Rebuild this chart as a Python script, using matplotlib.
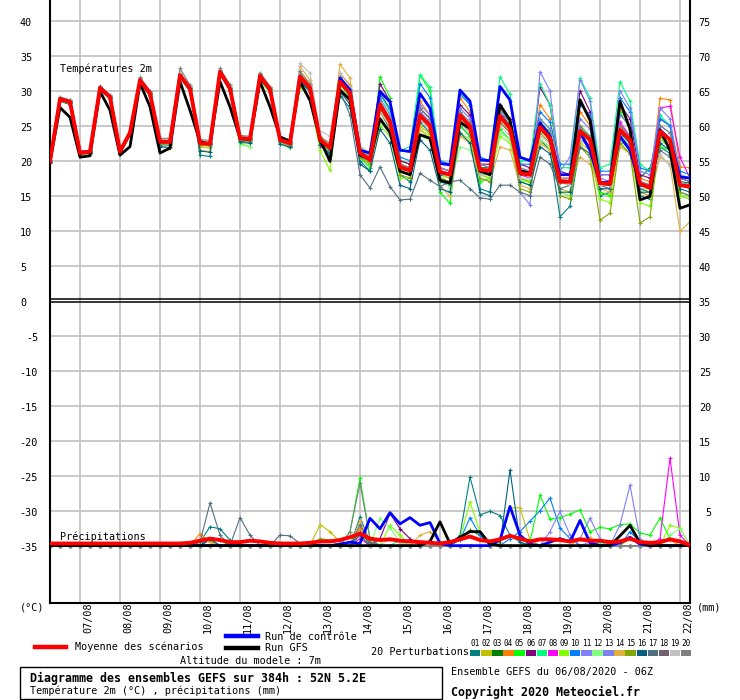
import numpy as np
import matplotlib
matplotlib.use("Agg")
import matplotlib.pyplot as plt
from matplotlib.transforms import blended_transform_factory
from matplotlib.patches import Rectangle

# ---------------- DATA ----------------
STEP_H = 6  # GEFS output step (hours), 06/08/2020 06Z -> +384h
DATE_LABELS = ["07/08", "08/08", "09/08", "10/08", "11/08", "12/08", "13/08", "14/08",
               "15/08", "16/08", "17/08", "18/08", "19/08", "20/08", "21/08", "22/08"]
FIRST_MIDNIGHT_H = 18

T_MEAN = [19.9, 28.8, 28.4, 21.1, 21.3, 30.4, 29.1, 21.3,
          24.0, 31.5, 29.6, 22.7, 22.7, 32.2, 30.3, 22.5,
          22.4, 32.7, 30.3, 23.2, 23.1, 32.1, 30.2, 23.0,
          22.5, 32.0, 30.4, 23.0, 21.8, 31.3, 29.6, 21.1,
          20.1, 28.0, 25.6, 19.1, 18.6, 26.5, 25.0, 18.4,
          18.0, 26.5, 24.9, 18.7, 18.6, 26.4, 24.6, 18.2,
          18.0, 24.8, 23.2, 17.0, 17.0, 24.2, 23.0, 16.8,
          16.7, 24.4, 23.0, 16.7, 16.1, 24.2, 23.0, 16.5,
          16.3]
T_GFS = [19.9, 27.6, 26.2, 20.5, 20.7, 29.9, 27.2, 20.8,
         22.0, 31.1, 27.7, 21.1, 21.8, 31.3, 27.2, 22.7,
         22.4, 31.3, 27.7, 23.2, 23.0, 31.3, 27.7, 23.4,
         22.8, 31.3, 28.6, 23.0, 19.9, 30.1, 28.7, 20.8,
         20.1, 26.0, 24.0, 18.5, 18.0, 23.7, 23.2, 17.2,
         16.8, 25.5, 24.6, 18.5, 18.0, 28.0, 25.8, 18.6,
         18.2, 25.0, 23.0, 17.0, 17.0, 28.7, 25.8, 16.8,
         16.6, 28.5, 24.5, 14.4, 14.9, 24.4, 21.5, 13.2,
         13.7]
T_CTL = [19.9, 28.8, 28.4, 21.2, 21.3, 30.4, 29.1, 21.3,
         24.0, 31.5, 29.6, 22.7, 22.7, 32.2, 30.3, 22.5,
         22.4, 32.7, 30.3, 23.2, 23.1, 32.1, 30.2, 23.0,
         22.5, 32.0, 30.4, 23.0, 21.8, 31.8, 30.1, 21.5,
         21.1, 29.9, 28.4, 21.5, 21.3, 29.6, 27.5, 19.6,
         19.4, 30.1, 28.5, 20.1, 20.0, 30.6, 28.7, 20.5,
         20.0, 25.4, 23.5, 18.0, 18.0, 24.0, 21.5, 16.8,
         17.0, 23.5, 21.5, 16.5, 16.3, 24.4, 23.0, 17.7,
         17.5]

T_P01 = [19.7, 28.5, 28.0, 20.9, 21.0, 30.1, 28.8, 21.0,
         23.6, 31.2, 29.2, 22.3, 22.2, 31.8, 29.9, 20.8,
         20.6, 32.3, 30.0, 22.8, 22.6, 31.8, 29.8, 22.5,
         22.0, 31.3, 29.8, 22.4, 20.8, 29.3, 27.5, 20.0,
         18.5, 27.0, 24.5, 18.0, 17.0, 25.5, 24.0, 17.0,
         16.5, 25.0, 23.5, 16.0, 15.5, 27.0, 25.0, 17.5,
         17.0, 23.0, 21.5, 12.0, 13.5, 22.0, 21.0, 15.0,
         15.5, 23.5, 22.0, 15.0, 14.5, 22.0, 21.0, 15.5,
         15.0]
T_P02 = [19.9, 28.7, 28.3, 21.0, 21.2, 30.3, 29.0, 21.5,
         24.2, 31.4, 29.5, 22.5, 22.4, 32.0, 30.1, 22.0,
         21.8, 32.5, 30.2, 23.0, 22.8, 32.0, 30.0, 22.8,
         22.3, 31.8, 30.1, 23.0, 21.5, 31.0, 29.2, 21.0,
         20.0, 27.0, 24.8, 18.5, 18.0, 25.0, 23.8, 17.5,
         17.0, 25.5, 24.0, 18.0, 17.5, 25.5, 24.0, 17.5,
         17.0, 23.0, 22.0, 16.0, 15.5, 22.5, 21.5, 15.5,
         15.0, 23.0, 22.0, 15.5, 15.0, 23.5, 22.5, 16.5,
         16.0]
T_P03 = [19.9, 29.0, 28.5, 21.2, 21.4, 30.5, 29.2, 21.2,
         23.9, 31.6, 29.7, 22.8, 22.8, 32.4, 30.5, 22.6,
         22.5, 32.8, 30.4, 23.3, 23.2, 32.3, 30.3, 23.1,
         22.6, 32.3, 30.6, 23.2, 22.0, 32.0, 30.0, 21.5,
         20.5, 28.5, 26.0, 19.5, 19.0, 27.0, 25.5, 18.5,
         18.0, 26.5, 25.0, 19.0, 19.0, 27.5, 25.5, 18.5,
         18.5, 25.5, 24.0, 17.5, 17.0, 24.5, 23.5, 17.0,
         16.5, 25.0, 23.5, 17.5, 19.0, 23.0, 22.0, 17.0,
         16.8]
T_P04 = [20.0, 28.9, 28.6, 21.3, 21.5, 30.6, 29.3, 21.6,
         24.3, 31.8, 29.9, 23.0, 22.9, 32.5, 30.6, 22.8,
         22.7, 32.9, 30.6, 23.5, 23.4, 32.4, 30.5, 23.3,
         22.8, 32.5, 30.8, 23.4, 22.3, 32.5, 30.8, 22.0,
         21.0, 30.0, 27.0, 20.0, 19.5, 28.5, 26.5, 19.0,
         18.5, 29.0, 27.0, 19.5, 19.0, 28.0, 26.0, 19.0,
         18.5, 28.0, 26.0, 17.5, 17.5, 27.0, 25.0, 17.0,
         17.0, 27.5, 25.0, 17.5, 17.0, 28.9, 28.7, 19.1,
         19.0]
T_P05 = [19.8, 28.8, 28.4, 21.0, 21.2, 30.4, 29.1, 21.2,
         23.8, 31.4, 29.5, 22.6, 22.6, 32.1, 30.2, 22.4,
         22.3, 32.6, 30.2, 23.1, 23.0, 32.0, 30.1, 22.9,
         22.3, 31.7, 30.0, 22.7, 21.3, 31.0, 29.0, 20.5,
         19.0, 32.0, 29.0, 20.0, 19.5, 32.2, 30.0, 15.5,
         13.9, 25.0, 23.5, 17.0, 17.5, 24.5, 23.0, 17.0,
         16.5, 26.0, 24.5, 17.0, 16.5, 25.0, 23.5, 15.5,
         15.0, 27.0, 24.5, 16.0, 15.5, 22.0, 21.5, 15.0,
         14.5]
T_P06 = [19.9, 28.8, 28.4, 21.2, 21.4, 30.4, 29.1, 21.4,
         24.0, 31.6, 29.6, 22.7, 22.6, 32.2, 30.3, 22.5,
         22.4, 32.7, 30.3, 23.2, 23.1, 32.1, 30.2, 23.0,
         22.4, 32.0, 30.4, 23.0, 21.7, 31.5, 29.8, 21.5,
         20.5, 31.0, 28.5, 20.0, 19.5, 27.5, 26.0, 19.0,
         18.5, 28.0, 26.5, 19.5, 19.5, 27.5, 26.0, 19.5,
         19.0, 30.5, 28.0, 18.5, 18.0, 30.0, 27.0, 18.0,
         18.0, 28.0, 26.0, 18.0, 17.5, 26.0, 25.0, 17.5,
         17.0]
T_P07 = [20.0, 29.0, 28.6, 21.3, 21.4, 30.6, 29.3, 21.4,
         24.1, 31.7, 29.8, 22.9, 22.9, 32.4, 30.5, 22.7,
         22.6, 32.9, 30.5, 23.4, 23.2, 32.3, 30.4, 23.1,
         22.6, 32.2, 30.6, 23.2, 22.0, 31.8, 30.2, 21.8,
         21.0, 29.5, 27.0, 21.5, 22.0, 32.3, 30.5, 20.0,
         19.5, 30.0, 28.0, 20.0, 20.0, 32.0, 29.5, 20.0,
         20.0, 31.0, 28.0, 19.0, 19.0, 31.8, 29.0, 19.0,
         19.5, 31.3, 28.5, 19.5, 18.5, 26.5, 25.0, 18.0,
         17.5]
T_P08 = [19.8, 28.7, 28.3, 21.1, 21.2, 30.3, 29.0, 21.3,
         23.9, 31.4, 29.5, 22.6, 22.5, 32.1, 30.2, 22.3,
         22.2, 32.6, 30.2, 23.0, 22.9, 32.0, 30.0, 22.7,
         22.1, 31.6, 29.8, 22.0, 21.2, 31.2, 29.5, 20.5,
         20.0, 27.5, 25.0, 19.5, 19.0, 26.0, 24.5, 18.0,
         17.5, 25.5, 24.0, 18.5, 18.0, 25.5, 24.0, 18.0,
         17.5, 24.5, 23.0, 17.0, 17.0, 24.0, 22.0, 17.0,
         16.5, 25.5, 23.5, 17.0, 16.5, 27.5, 27.8, 20.5,
         17.5]
T_P09 = [19.9, 28.6, 28.2, 21.0, 21.2, 30.2, 28.9, 21.1,
         23.7, 31.3, 29.4, 22.5, 22.5, 32.0, 30.1, 22.3,
         22.2, 32.5, 30.1, 22.5, 22.0, 31.5, 29.7, 22.5,
         22.0, 30.5, 29.0, 21.5, 18.6, 30.5, 28.5, 20.5,
         19.5, 25.0, 23.5, 17.5, 17.5, 24.5, 23.5, 18.0,
         17.5, 24.0, 23.0, 18.0, 17.5, 23.5, 22.5, 17.0,
         17.0, 22.5, 21.5, 15.5, 15.0, 22.0, 21.0, 14.5,
         14.0, 22.5, 21.0, 14.0, 13.5, 23.0, 22.0, 15.0,
         14.5]
T_P10 = [20.0, 28.9, 28.5, 21.2, 21.3, 30.5, 29.2, 21.3,
         24.0, 31.6, 29.7, 22.8, 22.8, 32.3, 30.4, 22.6,
         22.5, 32.8, 30.4, 23.3, 23.2, 32.2, 30.3, 23.1,
         22.6, 32.1, 30.5, 23.1, 21.9, 31.5, 29.8, 21.5,
         21.0, 29.5, 27.5, 20.5, 20.0, 31.0, 29.0, 20.0,
         19.5, 29.5, 28.0, 20.5, 20.0, 30.5, 28.5, 19.5,
         19.5, 27.0, 25.5, 19.5, 19.5, 28.0, 26.5, 18.5,
         18.5, 29.0, 27.0, 19.0, 18.5, 26.0, 25.0, 18.5,
         18.0]
T_P11 = [19.8, 28.8, 28.4, 21.1, 21.3, 30.4, 29.1, 21.3,
         24.0, 31.5, 29.6, 22.7, 22.7, 32.2, 30.3, 22.5,
         22.4, 32.7, 30.3, 23.2, 23.1, 32.1, 30.2, 23.0,
         22.5, 32.0, 30.4, 23.0, 21.8, 31.3, 29.6, 21.2,
         20.5, 28.0, 25.5, 18.5, 18.0, 27.0, 25.5, 18.5,
         18.0, 27.0, 25.0, 18.5, 18.5, 26.5, 24.5, 15.5,
         13.7, 32.7, 30.0, 18.5, 20.5, 31.6, 28.5, 18.0,
         18.0, 30.0, 27.5, 18.5, 18.0, 27.5, 26.0, 18.0,
         17.5]
T_P12 = [19.9, 28.7, 28.3, 21.0, 21.2, 30.3, 29.0, 21.2,
         23.9, 31.4, 29.5, 22.6, 22.6, 32.1, 30.2, 22.4,
         22.3, 32.6, 30.2, 22.3, 22.0, 31.8, 29.9, 22.4,
         21.8, 31.5, 29.8, 22.5, 21.0, 30.5, 28.5, 20.5,
         20.0, 25.5, 24.0, 19.0, 19.0, 23.5, 23.0, 18.5,
         16.0, 22.0, 21.5, 18.0, 18.0, 24.0, 23.0, 17.0,
         17.5, 23.0, 22.0, 17.0, 16.5, 24.0, 22.5, 16.5,
         16.5, 23.5, 22.5, 16.0, 16.0, 23.0, 22.0, 16.5,
         16.0]
T_P13 = [20.0, 28.9, 28.5, 21.2, 21.3, 30.5, 29.1, 21.3,
         24.1, 31.6, 29.6, 22.8, 22.8, 32.3, 30.4, 22.5,
         22.4, 32.7, 30.4, 23.3, 23.2, 32.2, 30.3, 23.1,
         22.6, 32.1, 30.5, 23.1, 22.0, 31.4, 29.7, 21.3,
         20.5, 29.0, 26.5, 19.5, 19.0, 28.0, 26.5, 19.0,
         18.5, 27.5, 26.0, 19.5, 19.0, 27.0, 25.5, 19.0,
         18.5, 26.0, 24.5, 17.5, 17.5, 26.0, 24.5, 17.5,
         17.0, 26.5, 25.0, 17.0, 16.5, 25.0, 24.0, 17.0,
         16.5]
T_P14 = [20.1, 29.0, 28.6, 20.8, 21.0, 30.5, 29.2, 21.5,
         24.2, 31.8, 29.8, 22.0, 21.8, 32.5, 30.4, 21.5,
         21.3, 32.8, 30.4, 23.4, 23.3, 32.4, 30.5, 23.2,
         22.7, 33.5, 31.5, 23.5, 22.3, 33.8, 31.8, 21.5,
         20.5, 26.0, 24.0, 19.0, 18.0, 24.5, 23.0, 16.5,
         14.9, 23.5, 22.5, 17.5, 17.0, 22.0, 21.5, 16.5,
         16.0, 22.5, 21.5, 17.5, 17.0, 20.5, 19.5, 16.0,
         15.5, 22.0, 21.0, 15.5, 15.0, 20.5, 19.5, 9.9,
         11.3]
T_P15 = [19.8, 28.6, 28.2, 21.0, 21.1, 30.2, 28.9, 21.0,
         23.8, 31.3, 29.4, 22.4, 22.4, 32.0, 30.1, 22.2,
         22.1, 32.5, 30.1, 22.9, 22.8, 31.9, 30.0, 22.8,
         22.2, 31.8, 30.2, 22.8, 21.5, 31.0, 29.2, 20.5,
         19.5, 27.5, 25.0, 18.0, 17.5, 26.0, 24.5, 17.5,
         17.0, 26.0, 24.0, 17.5, 17.0, 25.5, 24.0, 16.0,
         15.5, 24.0, 22.5, 15.0, 14.5, 22.0, 20.5, 11.5,
         12.5, 22.5, 21.0, 11.1, 12.0, 23.5, 22.0, 15.5,
         15.0]
T_P16 = [19.8, 28.7, 28.3, 21.0, 21.1, 30.3, 29.0, 21.1,
         23.8, 31.4, 29.5, 22.0, 21.9, 32.1, 30.2, 21.4,
         21.2, 32.5, 30.1, 22.6, 22.5, 31.7, 29.8, 22.4,
         21.9, 31.4, 29.9, 22.3, 21.0, 30.0, 28.0, 19.5,
         18.5, 24.5, 22.5, 16.5, 16.0, 23.0, 21.5, 16.0,
         15.5, 24.0, 22.5, 15.5, 15.0, 28.0, 25.5, 17.0,
         16.5, 22.0, 21.0, 15.5, 15.5, 23.0, 22.0, 16.0,
         16.0, 24.0, 22.5, 15.5, 15.5, 22.5, 21.5, 16.0,
         15.5]
T_P17 = [19.9, 28.9, 28.5, 21.1, 21.3, 30.5, 29.2, 21.3,
         24.0, 31.6, 29.7, 22.8, 22.8, 32.3, 30.4, 22.6,
         22.5, 32.8, 30.4, 23.3, 23.2, 32.2, 30.3, 23.1,
         22.6, 32.1, 30.5, 23.0, 21.5, 30.0, 26.5, 18.0,
         16.1, 19.1, 16.3, 14.4, 14.5, 18.2, 17.2, 16.3,
         17.0, 17.2, 16.0, 14.7, 14.5, 16.5, 16.5, 15.5,
         15.0, 20.5, 19.5, 16.0, 16.5, 22.0, 21.0, 16.5,
         16.0, 23.0, 21.5, 16.0, 15.5, 21.5, 20.5, 16.5,
         16.0]
T_P18 = [19.9, 28.8, 28.4, 21.1, 21.3, 30.4, 29.1, 21.4,
         24.1, 31.5, 29.6, 22.7, 22.7, 32.2, 30.3, 22.5,
         22.4, 32.7, 30.3, 23.2, 23.1, 32.1, 30.2, 23.0,
         22.5, 32.0, 30.4, 23.0, 21.8, 31.3, 29.6, 21.0,
         20.0, 28.0, 25.5, 19.0, 18.5, 26.5, 25.0, 18.0,
         18.0, 26.5, 25.0, 18.5, 18.5, 26.0, 24.5, 18.0,
         18.0, 24.5, 23.0, 17.0, 17.0, 24.5, 23.0, 17.0,
         17.0, 24.5, 23.0, 17.0, 16.5, 24.0, 23.0, 16.5,
         16.3]
T_P19 = [20.0, 29.0, 28.6, 21.3, 21.5, 30.6, 29.3, 21.5,
         24.2, 31.8, 29.9, 23.0, 23.0, 32.5, 30.8, 22.8,
         22.7, 33.0, 31.0, 23.5, 23.4, 32.5, 30.6, 23.3,
         23.0, 33.9, 32.5, 24.3, 23.5, 32.5, 30.5, 22.0,
         21.0, 27.0, 25.0, 19.5, 19.0, 26.0, 24.5, 18.5,
         18.0, 25.5, 24.0, 18.0, 18.0, 25.0, 23.5, 17.5,
         17.5, 23.5, 22.5, 17.0, 16.5, 23.0, 22.0, 16.5,
         16.5, 23.0, 22.0, 16.5, 16.5, 21.0, 19.2, 18.0,
         17.5]
T_P20 = [20.0, 29.1, 28.7, 21.3, 21.5, 30.7, 29.4, 21.5,
         24.3, 31.9, 30.0, 23.2, 23.2, 33.2, 30.8, 23.0,
         22.9, 33.2, 30.8, 23.6, 23.5, 32.6, 30.6, 23.4,
         22.9, 32.8, 31.0, 23.4, 22.5, 32.0, 30.2, 21.5,
         20.5, 28.5, 26.0, 19.5, 19.0, 27.5, 26.0, 18.5,
         18.0, 27.0, 25.5, 18.5, 18.5, 27.5, 25.5, 18.5,
         18.0, 25.0, 23.5, 17.0, 17.0, 25.0, 23.5, 17.0,
         17.0, 25.0, 23.5, 17.0, 16.5, 25.0, 24.0, 17.5,
         17.0]

# precipitation (mm per 6h); dictionaries give {step index: mm}, other steps are 0
P_MEAN = [0.3, 0.3, 0.3, 0.3, 0.3, 0.3, 0.3, 0.3,
          0.3, 0.3, 0.3, 0.3, 0.3, 0.3, 0.4, 0.7,
          1.0, 0.8, 0.5, 0.5, 0.7, 0.6, 0.4, 0.3,
          0.3, 0.3, 0.4, 0.6, 0.6, 0.8, 1.2, 1.7,
          1.0, 0.8, 0.9, 0.7, 0.6, 0.5, 0.4, 0.3,
          0.5, 0.9, 1.3, 0.8, 0.6, 0.9, 1.4, 1.0,
          0.6, 0.9, 0.9, 0.8, 0.6, 0.9, 0.7, 0.7,
          0.5, 0.6, 1.0, 0.5, 0.4, 0.5, 0.9, 0.6,
          0.1]
P_CTL = {29: 0.2, 30: 0.5, 31: 0.3, 32: 3.9, 33: 2.4, 34: 4.7, 35: 3.1, 36: 4.0,
         37: 2.9, 38: 3.3, 39: 0.3, 45: 0.8, 46: 5.6, 47: 1.5, 48: 0.2, 50: 0.5,
         51: 1.0, 52: 0.5, 53: 3.6, 54: 0.4, 57: 0.4, 58: 1.2, 59: 0.2}
P_GFS = {38: 0.6, 39: 3.4, 40: 0.3, 41: 1.2, 42: 2.0, 43: 2.0, 44: 0.2,
         57: 1.4, 58: 2.9, 59: 0.4}
P_P01 = {15: 0.5, 16: 2.7, 17: 2.4, 18: 0.8, 31: 4.1, 32: 0.5, 41: 1.5, 42: 9.8,
         43: 4.4, 44: 4.9, 45: 4.3, 46: 1.5, 47: 0.5}
P_P02 = {27: 3.0, 28: 2.0, 29: 0.5, 45: 0.5, 46: 5.4, 47: 5.4, 48: 0.8}
P_P03 = {16: 1.0, 17: 0.8, 41: 1.0, 42: 2.2, 43: 1.5}
P_P04 = {15: 1.7, 16: 0.5, 31: 2.5, 32: 0.5, 61: 0.3, 62: 0.8}
P_P05 = {30: 2.0, 31: 9.6, 32: 1.0, 48: 0.5, 49: 7.2, 50: 3.8, 51: 4.0, 52: 4.5,
         53: 5.1, 54: 2.0, 55: 2.6, 56: 2.4, 57: 3.0, 58: 3.1, 59: 1.8, 60: 1.5,
         61: 3.9, 62: 1.0, 63: 0.5}
P_P06 = {16: 0.8, 33: 1.0, 34: 4.6, 35: 2.4, 36: 1.0}
P_P07 = {15: 0.5, 16: 0.6, 35: 0.8, 55: 0.5}
P_P08 = {31: 1.0, 61: 1.0, 62: 12.5, 63: 1.5}
P_P09 = {31: 2.0, 34: 2.9, 35: 1.5, 41: 1.0, 42: 6.2, 43: 2.0, 62: 2.9, 63: 2.5}
P_P10 = {41: 0.8, 42: 4.0, 43: 1.5, 46: 1.0, 47: 2.0, 48: 3.5, 49: 5.0, 50: 6.8,
         51: 2.5, 52: 1.0, 58: 2.0, 59: 0.5}
P_P11 = {50: 2.0, 51: 4.9, 52: 1.5, 54: 0.5}
P_P12 = {33: 3.9, 34: 2.5, 35: 0.5, 62: 1.5, 63: 2.4}
P_P13 = {53: 1.0, 54: 3.9, 55: 1.0, 57: 3.0, 58: 8.6, 59: 1.0}
P_P14 = {15: 1.0, 16: 0.5, 31: 3.6, 32: 0.5, 37: 1.5, 38: 2.0, 39: 0.5, 53: 1.0, 54: 1.2}
P_P15 = {27: 1.0, 28: 0.8, 58: 1.0, 59: 0.5}
P_P16 = {16: 1.0, 31: 1.5, 45: 0.2, 46: 10.8, 47: 0.5}
P_P17 = {15: 0.5, 16: 6.1, 17: 1.5, 19: 4.0, 20: 1.5, 23: 1.5, 24: 1.4, 25: 0.3,
         31: 3.0, 32: 0.5}
P_P18 = {31: 2.0, 32: 0.3}
P_P19 = {34: 1.0, 35: 0.3}
P_P20 = {30: 2.0, 31: 8.9, 32: 1.0}

PERT_COLORS = ["#008080", "#c0c000", "#008000", "#ff8000", "#00ff00",
               "#800080", "#00ff80", "#ff00ff", "#80ff00", "#0080ff",
               "#8080ff", "#80ff80", "#7f7ff0", "#e0b040", "#80a800",
               "#006080", "#507080", "#706070", "#c0c0c0", "#808080"]
PERT_LABELS = ["%02d" % (k + 1) for k in range(20)]

T_PERTS = [T_P01, T_P02, T_P03, T_P04, T_P05, T_P06, T_P07, T_P08, T_P09, T_P10,
           T_P11, T_P12, T_P13, T_P14, T_P15, T_P16, T_P17, T_P18, T_P19, T_P20]
P_PERTS = [P_P01, P_P02, P_P03, P_P04, P_P05, P_P06, P_P07, P_P08, P_P09, P_P10,
           P_P11, P_P12, P_P13, P_P14, P_P15, P_P16, P_P17, P_P18, P_P19, P_P20]

# ---------------- LAYOUT ----------------
W, H = 740, 700
N = len(T_MEAN)
for s in T_PERTS + [T_GFS, T_CTL, P_MEAN]:
    assert len(s) == N, len(s)
hours = np.arange(N) * STEP_H
PRECIP_BASE = -35.0  # precipitation 0 mm sits at -35 on the left scale
LABEL_DROP = 0.38    # axis labels sit slightly below their grid line


def dense(d):
    a = np.zeros(N)
    for k, v in d.items():
        a[k] = v
    return a


FONT = "DejaVu Sans Mono"
plt.rcParams['font.family'] = [FONT, 'DejaVu Sans']

fig = plt.figure(figsize=(W / 100, H / 100), dpi=100)
fig.patch.set_facecolor("white")
ax = fig.add_axes([50 / W, 97 / H, 640 / W, 603 / H])
ax.set_xlim(0, hours[-1])
ax.set_ylim(-43.2, 42.96)
ax.set_xticks([])
ax.set_yticks([])
for sp in ["left", "right", "bottom"]:
    ax.spines[sp].set_linewidth(1.5)
    ax.spines[sp].set_color("black")
ax.spines["top"].set_visible(False)

grid_c = "#c0c0c0"
for v in range(-35, 45, 5):
    if v != 0:
        ax.axhline(v, color=grid_c, lw=1.2, zorder=0)
midnights = [FIRST_MIDNIGHT_H + 24 * k for k in range(len(DATE_LABELS))]
for h in midnights:
    ax.axvline(h, color=grid_c, lw=1.2, zorder=0)
ax.axhline(0.24, color="black", lw=1.1, zorder=6)
ax.axhline(-0.26, color="black", lw=1.1, zorder=6)

# perturbations
for col, t, p in zip(PERT_COLORS, T_PERTS, P_PERTS):
    ax.plot(hours, t, color=col, lw=0.8, marker="+", ms=3.2, mew=0.8, zorder=2)
    ax.plot(hours, dense(p) + PRECIP_BASE, color=col, lw=0.8, marker="+",
            ms=3.2, mew=0.8, zorder=2)

ax.plot(hours, T_CTL, color="#0000ff", lw=2.0, zorder=3)
ax.plot(hours, dense(P_CTL) + PRECIP_BASE, color="#0000ff", lw=2.0, zorder=3)
ax.plot(hours, T_GFS, color="black", lw=2.0, zorder=4)
ax.plot(hours, dense(P_GFS) + PRECIP_BASE, color="black", lw=2.0, zorder=4)
ax.plot(hours, T_MEAN, color="#ff0000", lw=2.8, zorder=5)
ax.plot(hours, np.array(P_MEAN) + PRECIP_BASE, color="#ff0000", lw=2.8, zorder=5)

fs = 7.3
# axis labels
tl = blended_transform_factory(fig.transFigure, ax.transData)
for v in range(0, 45, 5):
    ax.text(20 / W, v - LABEL_DROP, str(v), transform=tl, ha="left", va="center",
            fontsize=fs)
for v in range(-35, 0, 5):
    ax.text(38 / W, v - LABEL_DROP, str(v), transform=tl, ha="right", va="center",
            fontsize=fs)
for mm in range(0, 80, 5):
    ax.text(711 / W, mm + PRECIP_BASE - LABEL_DROP, str(mm), transform=tl,
            ha="right", va="center", fontsize=fs)

tb = blended_transform_factory(ax.transData, fig.transFigure)
for h, lab in zip(midnights, DATE_LABELS):
    ax.text(h + 4.8, 1 - 602 / H, lab, transform=tb, rotation=90, ha="center",
            va="top", fontsize=fs)


def ftext(x, y, s, **kw):
    kw.setdefault("fontsize", fs)
    kw.setdefault("va", "center")
    kw.setdefault("ha", "left")
    fig.text(x / W, 1 - y / H, s, **kw)


ftext(60, 69, "Températures 2m")
ftext(60, 537, "Précipitations")
ftext(20, 607, "(°C)")
ftext(697, 607, "(mm)")


def fline(x0, x1, y, color, lw):
    fig.add_artist(plt.Line2D([x0 / W, x1 / W], [1 - y / H, 1 - y / H],
                              color=color, lw=lw, transform=fig.transFigure))


fline(35, 66, 647, "#ff0000", 3.2)
ftext(75, 647, "Moyenne des scénarios")
fline(226, 258, 636, "#0000ff", 3.2)
ftext(265, 637, "Run de contrôle")
fline(226, 258, 648, "black", 3.2)
ftext(265, 648, "Run GFS")
ftext(180, 661, "Altitude du modele : 7m")
ftext(371, 652, "20 Perturbations")
for k, (col, lab) in enumerate(zip(PERT_COLORS, PERT_LABELS)):
    x0 = 470 + 11.1 * k
    fig.add_artist(Rectangle((x0 / W, 1 - 655.5 / H), 10.5 / W, 6 / H,
                             transform=fig.transFigure, facecolor=col,
                             edgecolor="none"))
    ftext(x0 + 5.2, 643, lab, ha="center", fontsize=5.6)

fig.add_artist(Rectangle((20 / W, 1 - 699 / H), 422 / W, 32 / H,
                         transform=fig.transFigure, facecolor="none",
                         edgecolor="black", lw=1.0))
ftext(30, 678, "Diagramme des ensembles GEFS sur 384h : 52N 5.2E",
      fontsize=8.4, fontweight="bold")
ftext(30, 691, "Température 2m (°C) , précipitations (mm)")
ftext(451, 672, "Ensemble GEFS du 06/08/2020 - 06Z")
ftext(451, 692, "Copyright 2020 Meteociel.fr", fontsize=8.4, fontweight="bold")

fig.savefig("out.png", dpi=100, facecolor="white")
